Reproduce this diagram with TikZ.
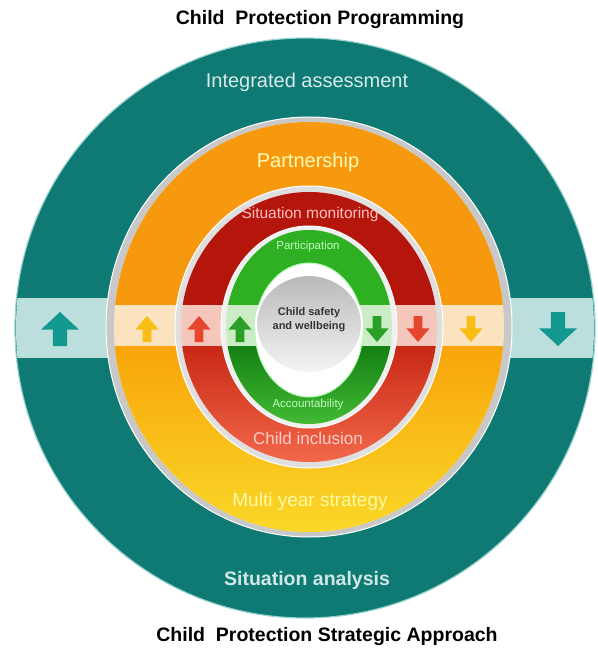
\documentclass[tikz,border=0pt]{standalone}
\usepackage{fontspec}
\setmainfont{Liberation Sans}

\definecolor{tealring}{RGB}{14,122,115}
\definecolor{tealline}{RGB}{150,210,205}
\definecolor{tealband}{RGB}{188,222,220}
\definecolor{tealarrow}{RGB}{18,152,142}
\definecolor{sepgray}{RGB}{200,200,200}
\definecolor{orangetop}{RGB}{247,153,14}
\definecolor{orangelow}{RGB}{248,164,10}
\definecolor{yellowlow}{RGB}{250,216,40}
\definecolor{orangeband}{RGB}{252,227,192}
\definecolor{redtop}{RGB}{180,22,12}
\definecolor{redlowtop}{RGB}{200,40,20}
\definecolor{redlowbot}{RGB}{242,104,74}
\definecolor{redband}{RGB}{244,198,188}
\definecolor{greentop}{RGB}{46,176,34}
\definecolor{greenlowtop}{RGB}{20,128,20}
\definecolor{greenlowbot}{RGB}{66,186,52}
\definecolor{greenband}{RGB}{204,236,198}
\definecolor{arrowyellow}{RGB}{249,190,22}
\definecolor{arrowred}{RGB}{230,70,45}
\definecolor{arrowgreen}{RGB}{42,160,40}

\tikzset{
blockarrow/.pic = {
  \path[pic actions] (0,-0.5) -- (0.5,0.02) -- (0.19,0.02) -- (0.19,0.5)
    -- (-0.19,0.5) -- (-0.19,0.02) -- (-0.5,0.02) -- cycle;
},
ringtext/.style = {text=#1, font=\fontsize{20}{24}\selectfont},
smalltext/.style = {text=#1, font=\fontsize{11.5}{14}\selectfont},
titletext/.style = {font=\fontsize{19.5}{24}\selectfont\bfseries}
}

\begin{document}
\begin{tikzpicture}[x=1pt, y=-1pt]
	\def\cx{309}
	\def\cy{327}
	\def\bandtop{304}
	\def\bandbot{346}

	\useasboundingbox[fill=white] (0,0) rectangle (597,650);

	% Outer ring
	\fill[tealring, draw=tealline, line width=1.2] (305,328) circle (290);
	\begin{scope}
		\clip (305,328) circle (289);
		\fill[tealband] (0,298) rectangle (597,358);
	\end{scope}
	\fill[sepgray, draw=white, line width=1] (\cx,\cy) ellipse (203 and 210);

	% Partnership / multi year strategy
	\fill[orangeband] (\cx,\cy) ellipse (195 and 205);
	\begin{scope}
		\clip (0,0) rectangle (597,\bandtop);
		\fill[orangetop] (\cx,\cy) ellipse (195 and 205);
	\end{scope}
	\begin{scope}
		\clip (0,\bandbot) rectangle (597,650);
		\clip (\cx,\cy) ellipse (195 and 205);
		\shade[top color=orangelow, bottom color=yellowlow] (0,\bandbot) rectangle (597,532);
	\end{scope}
	\fill[gray!25, draw=white, line width=1] (\cx,\cy) ellipse (134 and 141);

	% Situation monitoring / child inclusion
	\fill[redband] (\cx,\cy) ellipse (128 and 135);
	\begin{scope}
		\clip (0,0) rectangle (597,\bandtop);
		\fill[redtop] (\cx,\cy) ellipse (128 and 135);
	\end{scope}
	\begin{scope}
		\clip (0,\bandbot) rectangle (597,650);
		\clip (\cx,\cy) ellipse (128 and 135);
		\shade[top color=redlowtop, bottom color=redlowbot] (0,\bandbot) rectangle (597,462);
	\end{scope}
	\fill[gray!12, draw=white, line width=1] (\cx,\cy) ellipse (88 and 101);

	% Participation / accountability
	\fill[greenband] (\cx,\cy) ellipse (83 and 97);
	\begin{scope}
		\clip (0,0) rectangle (597,\bandtop);
		\fill[greentop] (\cx,\cy) ellipse (83 and 97);
	\end{scope}
	\begin{scope}
		\clip (0,\bandbot) rectangle (597,650);
		\clip (\cx,\cy) ellipse (83 and 97);
		\shade[top color=greenlowtop, bottom color=greenlowbot] (0,\bandbot) rectangle (597,424);
	\end{scope}

	% Centre
	\fill[white, draw=green!30!white, line width=1] (309,330) ellipse (54 and 67);
	\shade[top color=gray!55!white, bottom color=gray!8!white, draw=white, line width=2]
		(309,324) ellipse (53 and 49);

	% Arrows in the band
	\pic[fill=tealarrow, xscale=38, yscale=34] at (60,329) {blockarrow};
	\pic[fill=arrowyellow, xscale=23, yscale=26] at (147,329) {blockarrow};
	\pic[fill=arrowred, xscale=23, yscale=26] at (199,329) {blockarrow};
	\pic[fill=arrowgreen, xscale=23, yscale=26] at (240,329) {blockarrow};
	\pic[fill=arrowgreen, xscale=23, yscale=-26] at (377,329) {blockarrow};
	\pic[fill=arrowred, xscale=23, yscale=-26] at (418,329) {blockarrow};
	\pic[fill=arrowyellow, xscale=23, yscale=-26] at (471,329) {blockarrow};
	\pic[fill=tealarrow, xscale=38, yscale=-34] at (558,329) {blockarrow};

	% Labels
	\node[titletext] (progTitle) at (320,20) {Child\ \ Protection Programming};
	\node[ringtext={tealband!60!white}] (integrated) at (307,82) {Integrated assessment};
	\node[ringtext={yellow!30!white}] (partnership) at (308,162) {Partnership};
	\node[ringtext={red!25!white}, font=\fontsize{15.5}{18}\selectfont] (monitoring) at (310,214) {Situation monitoring};
	\node[smalltext={green!25!white}] (participation) at (308,247) {Participation};
	\node[font=\fontsize{11}{14}\selectfont\bfseries, text=black!80, align=center] (centre) at (309,320)
		{Child safety\\and wellbeing};
	\node[smalltext={green!25!white}] (accountability) at (308,405) {Accountability};
	\node[ringtext={red!20!white}, font=\fontsize{17}{20}\selectfont] (inclusion) at (308,438) {Child inclusion};
	\node[ringtext={yellow!35!white}, font=\fontsize{19}{22}\selectfont] (multiyear) at (310,502) {Multi year strategy};
	\node[ringtext={tealband!70!white}, font=\fontsize{19.5}{23}\selectfont\bfseries] (analysis) at (307,580) {Situation analysis};
	\node[titletext] (stratTitle) at (327,636) {Child\ \ Protection Strategic Approach};

\end{tikzpicture}
\end{document}
